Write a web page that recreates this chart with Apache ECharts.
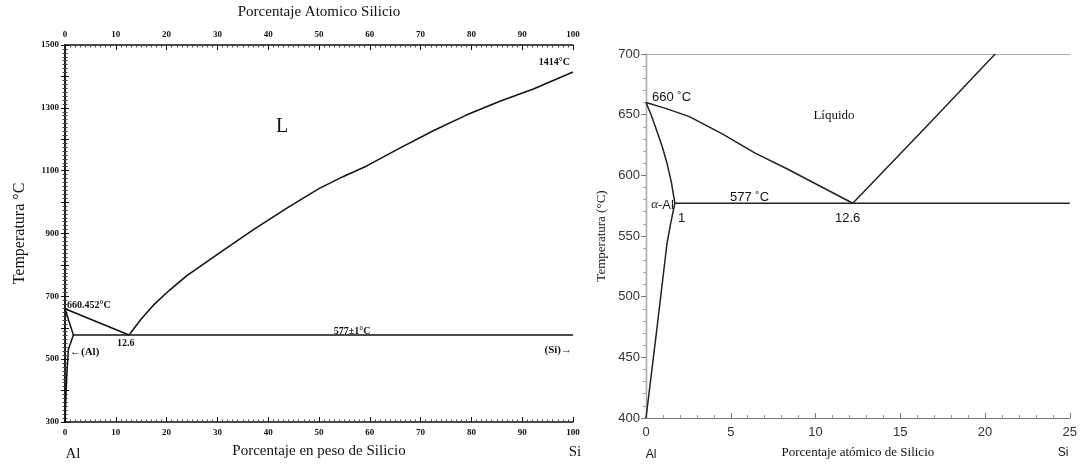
<!DOCTYPE html>
<html>
<head>
<meta charset="utf-8">
<script src="https://cdn.jsdelivr.net/npm/echarts@6/dist/echarts.min.js"></script>
<style>
  html, body { margin: 0; padding: 0; background: #fff; }
  #chart { width: 1080px; height: 464px; }
</style>
</head>
<body>
<div id="chart"></div>
<script>
// ---- diagrama izquierdo: % en peso de Si (0-100), 300-1500 °C
const leftTempLabels = [300, 500, 700, 900, 1100, 1300, 1500]
const liqAlWt = [[0, 660.452], [12.6, 577]]
const solidusAlWt = [[0, 660.452], [1.65, 577]]
const solvusAlWt = [[1.65, 577], [0.66, 531], [0.33, 442], [0.1, 350], [0, 300]]
const eutecticWt = [[1.65, 577], [100, 577]]
const liqSiWt = [
  [12.6, 577], [15.0, 628], [17.4, 672], [20.6, 720], [24.0, 766], [30.5, 839],
  [37.1, 912], [43.6, 980], [49.9, 1042], [54.6, 1080], [59.4, 1115], [65.9, 1172],
  [72.5, 1227], [79.0, 1277], [85.6, 1321], [92.2, 1360], [100, 1414],
]

// ---- diagrama derecho: % atómico de Si (0-25), 400-700 °C
const liqAlAt = [
  [0, 660], [1.2, 655], [2.56, 648.4], [4.5, 634.2], [6.44, 618.3],
  [8.37, 605], [10.31, 590.8], [12.2, 577],
]
const solidusAlAt = [[0, 660], [0.3, 650], [0.62, 637.4], [0.95, 624], [1.24, 610], [1.5, 594], [1.7, 577]]
const solvusAlAt = [[1.7, 577], [1.45, 560], [1.24, 544], [0.62, 471], [0, 400]]
const eutecticAt = [[1.7, 577], [25, 577]]
const liqSiAt = [[12.2, 577], [16.7, 642.5], [20.6, 700]]

const SERIF = '"Liberation Serif", "Times New Roman", serif'
const SANS = '"Liberation Sans", Arial, sans-serif'
const INK = '#111'

const chart = echarts.init(document.getElementById('chart'))

// axis index: 0 = left diagram, 2 = right diagram
function line(data, ai, color) {
  return {
    type: 'line', data, xAxisIndex: ai, yAxisIndex: ai,
    showSymbol: false, symbol: 'none', silent: true, smooth: false,
    lineStyle: { color: color || INK, width: 1.5, join: 'round' },
  }
}

function txt(x, y, text, font, align, fill) {
  return {
    type: 'text', x, y, silent: true,
    style: { text, font, fill: fill || INK, align: align || 'left', verticalAlign: 'middle' },
  }
}

const leftTick = { fontFamily: SERIF, fontWeight: 'bold', fontSize: 9, color: INK }
const rightTick = { fontFamily: SANS, fontSize: 13, color: '#333' }

chart.setOption({
  animation: false,
  grid: [
    { left: 65, top: 42, width: 508, height: 383.5 },
    { left: 646, top: 54, width: 430, height: 364.5 },
  ],
  xAxis: [
    {
      gridIndex: 0, type: 'value', min: 0, max: 100, interval: 10, position: 'bottom',
      axisLine: { lineStyle: { color: INK, width: 1.5 } },
      axisTick: { inside: true, length: 5, lineStyle: { color: INK } },
      minorTick: { show: true, splitNumber: 10, length: 2.5, lineStyle: { color: '#444' } },
      splitLine: { show: false },
      axisLabel: { ...leftTick, margin: 6 },
      name: 'Porcentaje en peso de Silicio', nameLocation: 'middle', nameGap: 22,
      nameTextStyle: { fontFamily: SERIF, fontSize: 15, color: INK },
    },
    {
      gridIndex: 0, type: 'value', min: 0, max: 100, interval: 10, position: 'top',
      axisLine: { lineStyle: { color: INK, width: 1.5 } },
      axisTick: { inside: true, length: 5, lineStyle: { color: INK } },
      minorTick: { show: true, splitNumber: 10, length: 2.5, lineStyle: { color: '#444' } },
      splitLine: { show: false },
      axisLabel: { ...leftTick, margin: 6 },
      name: 'Porcentaje Atomico Silicio', nameLocation: 'middle', nameGap: 25,
      nameTextStyle: { fontFamily: SERIF, fontSize: 15, color: INK },
    },
    {
      gridIndex: 1, type: 'value', min: 0, max: 25, interval: 5, position: 'bottom',
      axisLine: { lineStyle: { color: '#777', width: 1.2 } },
      axisTick: { inside: true, length: 5, lineStyle: { color: '#777' } },
      minorTick: { show: true, splitNumber: 5, length: 3, lineStyle: { color: '#999' } },
      splitLine: { show: false },
      axisLabel: { ...rightTick, margin: 8 },
      name: 'Porcentaje atómico de Silicio', nameLocation: 'middle', nameGap: 28,
      nameTextStyle: { fontFamily: SERIF, fontSize: 13, color: INK },
    },
    {
      gridIndex: 1, type: 'value', min: 0, max: 25, position: 'top',
      axisLine: { lineStyle: { color: '#aaa', width: 1.2 } },
      axisTick: { show: false }, axisLabel: { show: false }, splitLine: { show: false },
    },
  ],
  yAxis: [
    {
      gridIndex: 0, type: 'value', min: 300, max: 1500, interval: 100, position: 'left',
      axisLine: { show: true, lineStyle: { color: INK, width: 1.5 } },
      axisTick: { show: true, inside: true, length: 4, lineStyle: { color: INK } },
      minorTick: { show: true, splitNumber: 8, length: 2.5, lineStyle: { color: '#444' } },
      splitLine: { show: false },
      axisLabel: {
        ...leftTick, margin: 6,
        formatter: v => (leftTempLabels.includes(v) ? String(v) : ''),
      },
      name: 'Temperatura °C', nameLocation: 'middle', nameGap: 37, nameRotate: 90,
      nameTextStyle: { fontFamily: SERIF, fontSize: 16, color: INK },
    },
    {
      gridIndex: 0, type: 'value', min: 300, max: 1500, interval: 100, position: 'right',
      axisLine: { show: true, lineStyle: { color: INK, width: 1.5 } },
      axisTick: { show: true, inside: true, length: 4, lineStyle: { color: INK } },
      minorTick: { show: true, splitNumber: 8, length: 2.5, lineStyle: { color: '#444' } },
      splitLine: { show: false }, axisLabel: { show: false },
    },
    {
      gridIndex: 1, type: 'value', min: 400, max: 700, interval: 50, position: 'left',
      axisLine: { show: true, lineStyle: { color: '#666', width: 1.2 } },
      axisTick: { show: true, length: 5, lineStyle: { color: '#777' } },
      minorTick: { show: true, splitNumber: 5, length: 3, lineStyle: { color: '#aaa' } },
      splitLine: { show: false },
      axisLabel: { ...rightTick, margin: 6 },
      name: 'Temperatura (°C)', nameLocation: 'middle', nameGap: 38, nameRotate: 90,
      nameTextStyle: { fontFamily: SERIF, fontSize: 13, color: INK },
    },
    {
      gridIndex: 1, type: 'value', min: 400, max: 700, position: 'right',
      axisLine: { show: true, lineStyle: { color: '#aaa', width: 1.2 } },
      axisTick: { show: false }, axisLabel: { show: false }, splitLine: { show: false },
    },
  ],
  series: [
    line(liqAlWt, 0), line(solidusAlWt, 0), line(solvusAlWt, 0),
    line(eutecticWt, 0), line(liqSiWt, 0),
    line(liqAlAt, 2, '#222'), line(solidusAlAt, 2, '#222'), line(solvusAlAt, 2, '#222'),
    line(eutecticAt, 2, '#222'), line(liqSiAt, 2, '#222'),
  ],
  graphic: [
    // izquierdo
    txt(282, 127, 'L', '20px ' + SERIF, 'center'),
    txt(570, 62, '1414°C', 'bold 10px ' + SERIF, 'right'),
    txt(67, 305, '660.452°C', 'bold 10px ' + SERIF),
    txt(117, 343, '12.6', 'bold 10px ' + SERIF),
    txt(352, 331, '577±1°C', 'bold 10px ' + SERIF, 'center'),
    txt(70, 352, '←(Al)', 'bold 11px ' + SERIF),
    txt(572, 350, '(Si)→', 'bold 11px ' + SERIF, 'right'),
    txt(73, 454, 'Al', '15px ' + SERIF, 'center'),
    txt(575, 452, 'Si', '15px ' + SERIF, 'center'),
    // derecho
    txt(652, 97, '660 ˚C', '13px ' + SANS),
    txt(834, 116, 'Líquido', '13px ' + SERIF, 'center'),
    txt(730, 197, '577 ˚C', '13px ' + SANS),
    txt(658, 205, 'α', 'italic 13px ' + SERIF, 'right', '#222'),
    txt(658, 205, '-Al', '13px ' + SANS, 'left', '#222'),
    txt(678, 218, '1', '13px ' + SANS),
    txt(835, 218, '12.6', '13px ' + SANS),
    txt(651, 455, 'Al', '12px ' + SANS, 'center'),
    txt(1063, 453, 'Si', '12px ' + SANS, 'center'),
  ],
})
</script>
</body>
</html>
